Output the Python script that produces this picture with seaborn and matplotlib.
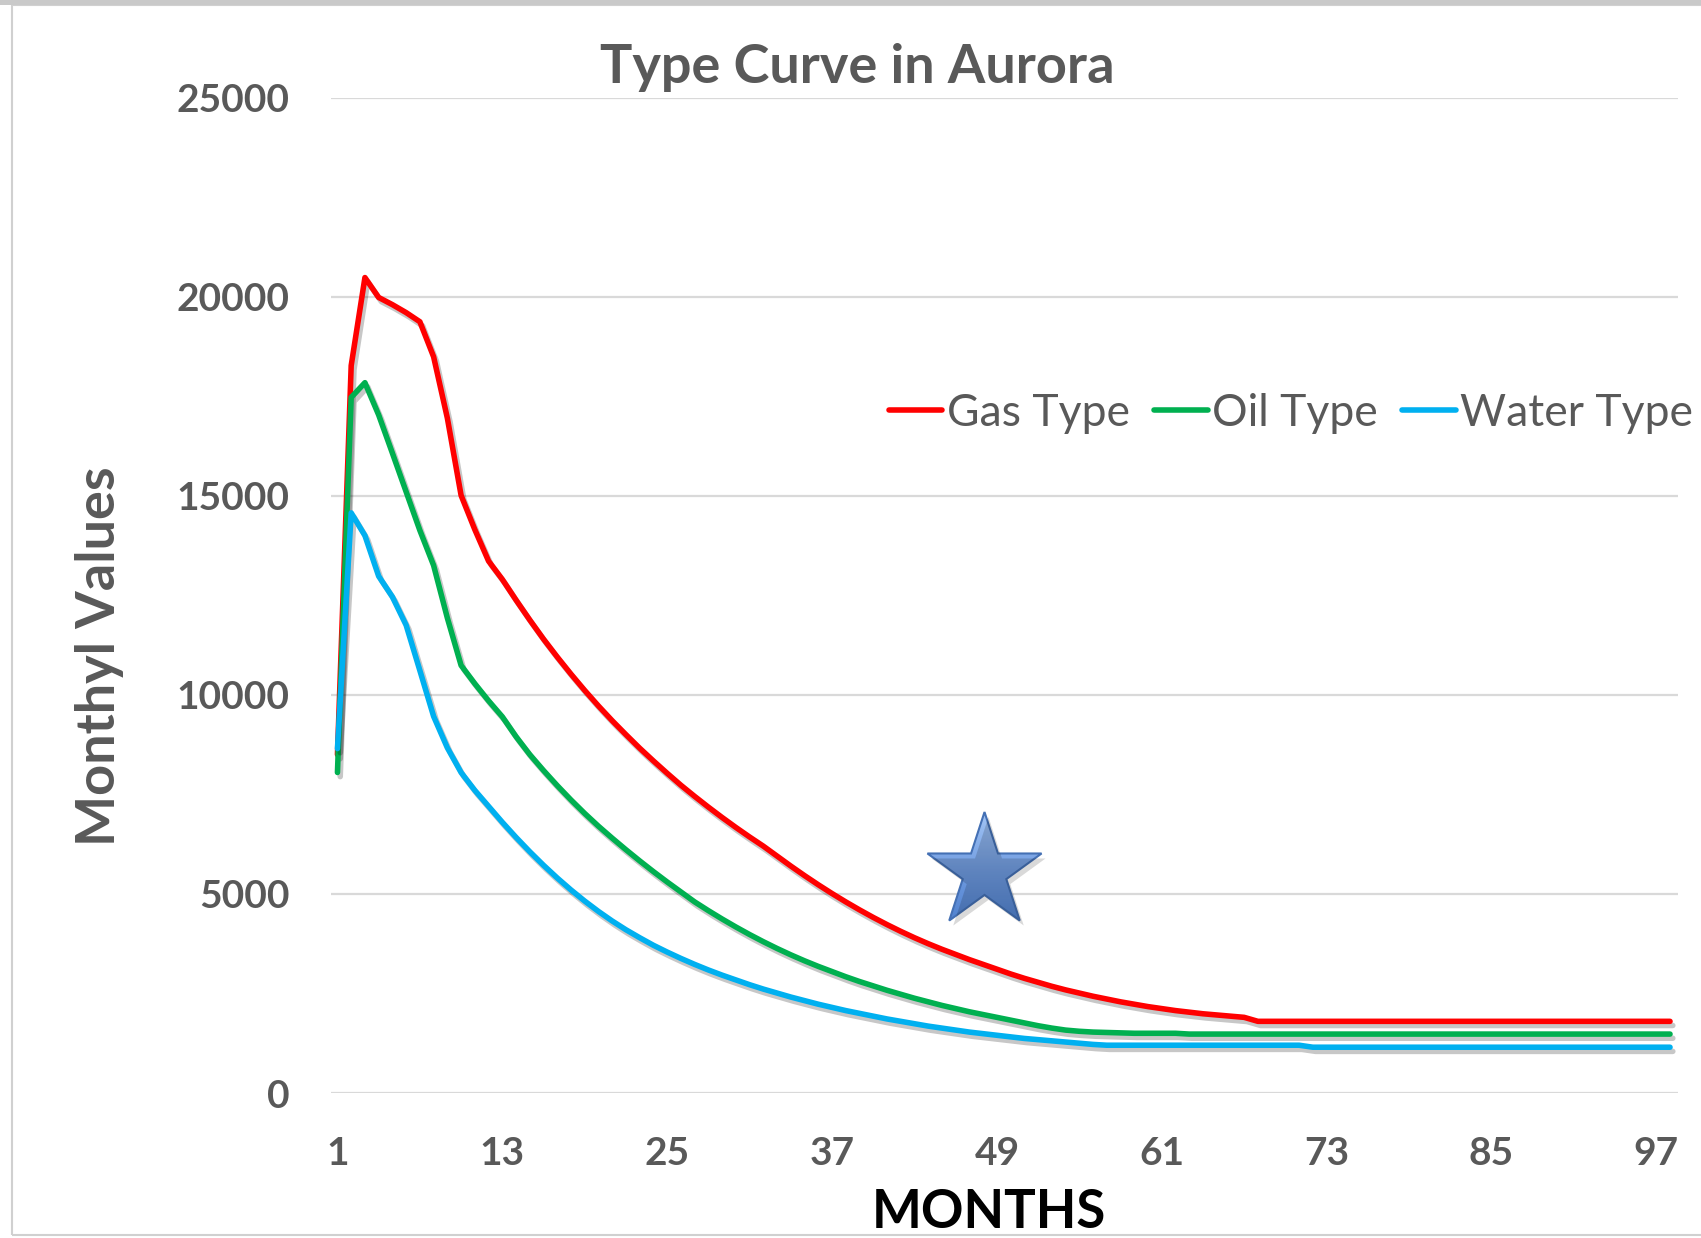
import matplotlib
matplotlib.use("Agg")
import matplotlib.pyplot as plt
import matplotlib.patheffects as pe
import matplotlib.transforms as mtransforms
from matplotlib.path import Path
from matplotlib.patches import PathPatch, Rectangle
from matplotlib.colors import LinearSegmentedColormap
import numpy as np
import pandas as pd
import seaborn as sns

# ---------------- data ----------------
months = list(range(1, 99))

gas_type = [8500, 18270, 20480, 19980, 19800, 19600, 19370, 18490, 16950, 15010,
            14150, 13360, 12900, 12380, 11880, 11400, 10950, 10520, 10110, 9720,
            9350, 9000, 8660, 8340, 8030, 7730, 7450, 7180, 6920, 6670,
            6430, 6200, 5950, 5700, 5460, 5230, 5010, 4800, 4600, 4410,
            4230, 4060, 3900, 3750, 3610, 3480, 3350, 3230, 3110, 2990,
            2880, 2780, 2680, 2590, 2510, 2430, 2360, 2290, 2230, 2170,
            2120, 2070, 2030, 1990, 1960, 1930, 1900, 1800, 1800, 1800,
            1800, 1800, 1800, 1800, 1800, 1800, 1800, 1800, 1800, 1800,
            1800, 1800, 1800, 1800, 1800, 1800, 1800, 1800, 1800, 1800,
            1800, 1800, 1800, 1800, 1800, 1800, 1800, 1800]

oil_type = [8050, 17470, 17840, 17030, 16070, 15100, 14130, 13250, 11930, 10740,
            10280, 9850, 9450, 8950, 8500, 8100, 7720, 7360, 7020, 6700,
            6400, 6110, 5830, 5560, 5300, 5050, 4800, 4580, 4370, 4170,
            3980, 3800, 3630, 3470, 3320, 3180, 3050, 2920, 2800, 2690,
            2580, 2480, 2380, 2290, 2200, 2120, 2040, 1970, 1900, 1830,
            1760, 1690, 1630, 1580, 1550, 1530, 1520, 1510, 1500, 1500,
            1500, 1500, 1480, 1480, 1480, 1480, 1480, 1480, 1480, 1480,
            1480, 1480, 1480, 1480, 1480, 1480, 1480, 1480, 1480, 1480,
            1480, 1480, 1480, 1480, 1480, 1480, 1480, 1480, 1480, 1480,
            1480, 1480, 1480, 1480, 1480, 1480, 1480, 1480]

water_type = [8650, 14570, 14000, 12980, 12460, 11750, 10610, 9460, 8670, 8050,
              7600, 7200, 6800, 6420, 6060, 5720, 5400, 5100, 4820, 4560,
              4320, 4100, 3900, 3710, 3540, 3380, 3230, 3090, 2960, 2840,
              2720, 2610, 2510, 2410, 2320, 2230, 2150, 2070, 2000, 1930,
              1860, 1800, 1740, 1680, 1630, 1580, 1530, 1490, 1450, 1410,
              1370, 1340, 1310, 1280, 1250, 1220, 1200, 1200, 1200, 1200,
              1200, 1200, 1200, 1200, 1200, 1200, 1200, 1200, 1200, 1200,
              1200, 1150, 1150, 1150, 1150, 1150, 1150, 1150, 1150, 1150,
              1150, 1150, 1150, 1150, 1150, 1150, 1150, 1150, 1150, 1150,
              1150, 1150, 1150, 1150, 1150, 1150, 1150, 1150]

series_names = ["Gas Type", "Oil Type", "Water Type"]
series_colors = ["#FF0000", "#00B050", "#00B0F0"]
x_ticks = [1, 13, 25, 37, 49, 61, 73, 85, 97]
y_ticks = [0, 5000, 10000, 15000, 20000, 25000]
title_text = "Type Curve in Aurora"
x_label = "MONTHS"
y_label = "Monthyl Values"
star_month = 48.1
star_value = 5550

df = pd.DataFrame({
    "Month": months * 3,
    "Value": gas_type + oil_type + water_type,
    "Series": [series_names[0]] * len(months) + [series_names[1]] * len(months)
              + [series_names[2]] * len(months),
})

# ---------------- style ----------------
sns.set_theme(style="white")
plt.rcParams["font.family"] = ["Lato", "DejaVu Sans"]
GREY = "#595959"

W, H = 1701, 1238
fig = plt.figure(figsize=(W / 100, H / 100), dpi=100)
ax = fig.add_axes([331 / W, 1 - 1093 / H, (1678 - 331) / W, (1093 - 97.6) / H])

sns.lineplot(data=df, x="Month", y="Value", hue="Series",
             palette=dict(zip(series_names, series_colors)),
             linewidth=4.0, ax=ax, legend=True)

for ln in ax.lines:
    ln.set_solid_capstyle("round")
    ln.set_path_effects([pe.SimpleLineShadow(offset=(2, -3), shadow_color="black", alpha=0.22),
                         pe.Normal()])

xlim = (0.53, 98.58)
ylim = (0, 25000)
ax.set_xlim(*xlim)
ax.set_ylim(*ylim)
ax.set_xticks(x_ticks)
ax.set_yticks(y_ticks)
ax.set_xticklabels([str(t) for t in x_ticks])
ax.set_yticklabels([str(t) for t in y_ticks])
ax.tick_params(axis="both", length=0, labelsize=28, labelcolor=GREY)
ax.tick_params(axis="y", pad=30)
ax.tick_params(axis="x", pad=31)
for lab in ax.get_xticklabels() + ax.get_yticklabels():
    lab.set_fontweight("bold")
ax.grid(axis="y", color="#D9D9D9", linewidth=1.6)
ax.grid(axis="x", visible=False)
ax.set_axisbelow(True)
for s in ax.spines.values():
    s.set_visible(False)
ax.set_xlabel("")
ax.set_ylabel("")

# legend
handles, labels = ax.get_legend_handles_labels()
leg = ax.legend(handles, labels, loc="center", bbox_to_anchor=(1291 / W, 1 - 413 / H),
                bbox_transform=fig.transFigure, ncol=3, frameon=False, fontsize=32,
                handlelength=1.2, handletextpad=0.1, columnspacing=0.55,
                labelcolor=GREY)
for h in leg.get_lines():
    h.set_linewidth(4.0)
    h.set_path_effects([])

# texts
fig.text(857 / W, 1 - 67 / H, title_text, ha="center", va="center",
         fontsize=39, fontweight="bold", color=GREY)
fig.text(99 / W, 1 - 656 / H, y_label, ha="center", va="center", rotation=90,
         fontsize=39, fontweight="bold", color=GREY)
fig.text(989 / W, 1 - 1213 / H, x_label, ha="center", va="center",
         fontsize=38, fontweight="bold", color="black")

# star with gradient
R = 60.0
star = Path.unit_regular_star(5, 0.381966)
cx, cy = ax.transData.transform((star_month, star_value))
shadow_tr = mtransforms.Affine2D().scale(R).translate(cx + 4, cy - 5)
shadow = PathPatch(star, transform=shadow_tr, facecolor="black", alpha=0.15,
                   edgecolor="none", zorder=5)
fig.add_artist(shadow)
star_tr = mtransforms.Affine2D().scale(R).translate(cx, cy)
star_patch = PathPatch(star, transform=star_tr, facecolor="none",
                       edgecolor="#4470B4", linewidth=1.5, zorder=7)
inv = ax.transData.inverted()
(x0, y0) = inv.transform((cx - R, cy - R))
(x1, y1) = inv.transform((cx + R, cy + R))
cmap = LinearSegmentedColormap.from_list("starg", ["#4A7CCB", "#6F9BE0", "#A3C5F5"])
grad = np.linspace(0, 1, 256).reshape(-1, 1)
img = ax.imshow(grad, extent=(x0, x1, y0, y1), origin="lower", aspect="auto",
                cmap=cmap, zorder=6, interpolation="bilinear")
clip = PathPatch(star, transform=star_tr, facecolor="none", edgecolor="none")
img.set_clip_path(clip)
ax.add_artist(star_patch)
star_patch.set_clip_on(False)
ax.set_xlim(*xlim)
ax.set_ylim(*ylim)

# frame (screenshot border)
fig.add_artist(Rectangle((12 / W, 3 / H), 2, 1 - 3 / H - 5 / H, transform=fig.transFigure,
                         facecolor="none", edgecolor="#D0D0D0", linewidth=1.5))
fig.add_artist(Rectangle((0, 1 - 5 / H), 1, 5 / H, transform=fig.transFigure,
                         facecolor="#C9C9C9", edgecolor="none"))

fig.savefig("out.png", dpi=100)
